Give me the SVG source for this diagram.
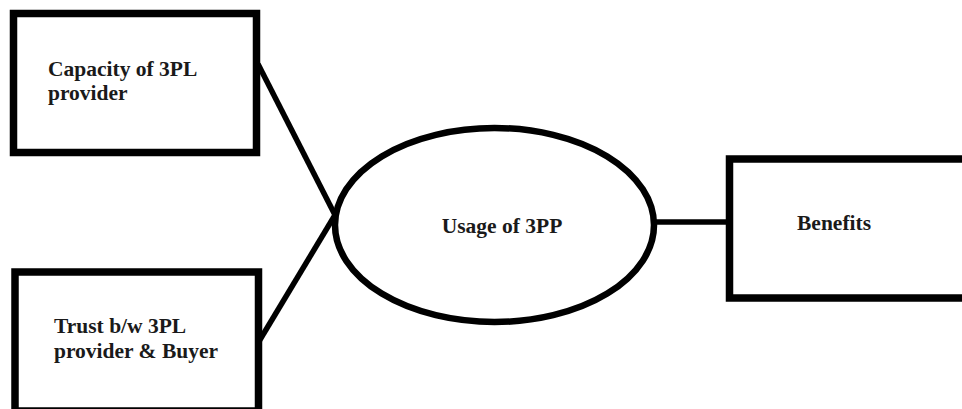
<svg xmlns="http://www.w3.org/2000/svg" width="962" height="409" viewBox="0 0 962 409">
  <style>
    .box { fill: #ffffff; stroke: #000000; stroke-width: 7.5; }
    .oval { fill: #ffffff; stroke: #000000; stroke-width: 6.5; }
    .link { stroke: #000000; stroke-width: 5.5; fill: none; stroke-linecap: butt; }
    .label { font-weight: bold; font-size: 21.5px; fill: #1a1a1a; }
  </style>
  <rect width="962" height="409" fill="#ffffff"/>

  <g id="connectors">
    <line class="link" x1="258" y1="64" x2="335" y2="215"/>
    <line class="link" x1="258" y1="343" x2="335" y2="215"/>
    <line class="link" x1="655" y1="222" x2="729" y2="222"/>
  </g>

  <g font-family="'Liberation Serif', 'DejaVu Serif', serif">
    <g id="node-capacity">
      <rect class="box" x="13.5" y="13.5" width="243" height="139"/>
      <text class="label" x="48" y="76">Capacity of 3PL</text>
      <text class="label" x="48" y="100">provider</text>
    </g>

    <g id="node-trust">
      <rect class="box" x="15" y="272" width="243.5" height="139"/>
      <text class="label" x="54" y="333">Trust b/w 3PL</text>
      <text class="label" x="54" y="358">provider &amp; Buyer</text>
    </g>

    <g id="node-usage">
      <ellipse class="oval" cx="494.5" cy="225" rx="159.5" ry="97"/>
      <text class="label" x="502" y="233" text-anchor="middle">Usage of 3PP</text>
    </g>

    <g id="node-benefits">
      <rect class="box" x="729.5" y="159" width="260" height="139"/>
      <text class="label" x="797" y="230">Benefits</text>
    </g>
  </g>
</svg>
